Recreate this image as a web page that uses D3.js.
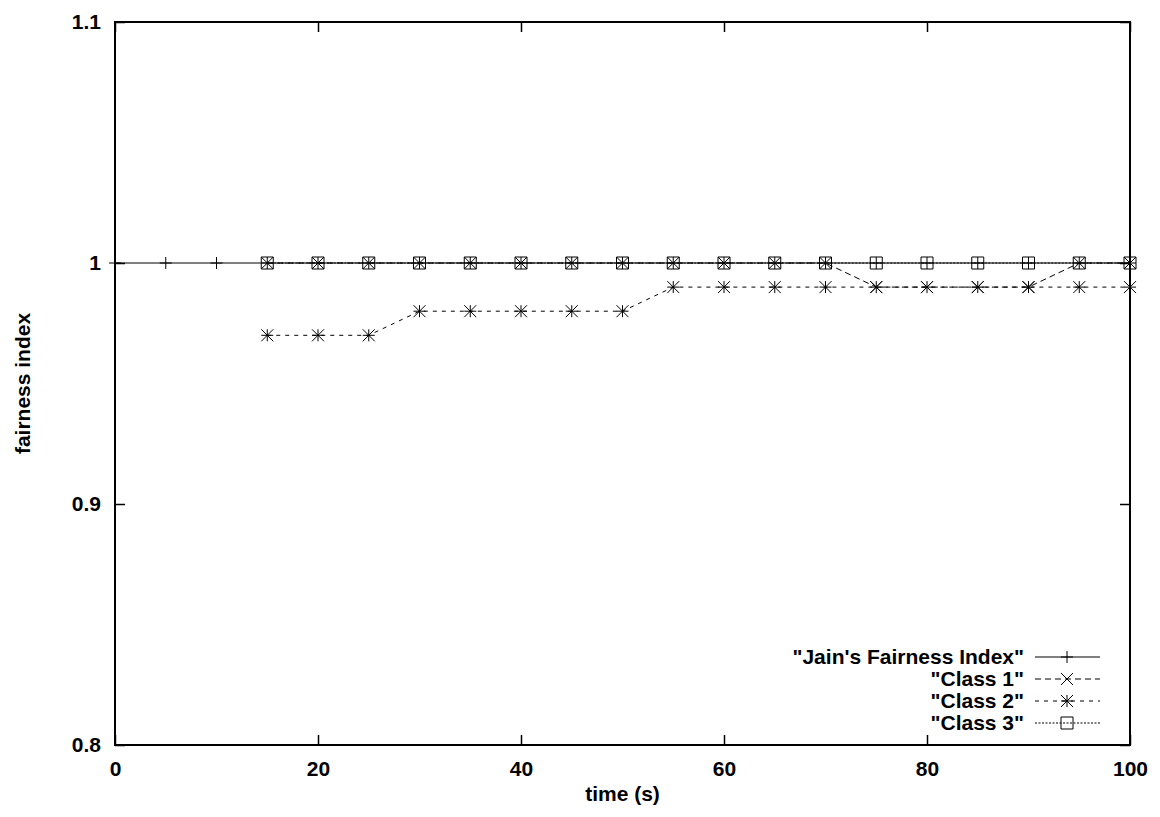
<!DOCTYPE html>
<html>
<head>
<meta charset="utf-8">
<script src="https://cdn.jsdelivr.net/npm/d3@7"></script>
<style>
  body { margin: 0; background: #fff; }
  text { font-family: "Liberation Sans", Arial, sans-serif; font-weight: bold; fill: #000; }
</style>
</head>
<body>
<svg id="chart" width="1160" height="817"></svg>
<script>
const jainX = [0, 5, 10, 15, 20, 25, 30, 35, 40, 45, 50, 55, 60, 65, 70, 75, 80, 85, 90, 95, 100];
const jainY = [1, 1, 1, 1, 1, 1, 1, 1, 1, 1, 1, 1, 1, 1, 1, 1, 1, 1, 1, 1, 1];
const classX = [15, 20, 25, 30, 35, 40, 45, 50, 55, 60, 65, 70, 75, 80, 85, 90, 95, 100];
const class1Y = [1, 1, 1, 1, 1, 1, 1, 1, 1, 1, 1, 1, 0.99, 0.99, 0.99, 0.99, 1, 1];
const class2Y = [0.97, 0.97, 0.97, 0.98, 0.98, 0.98, 0.98, 0.98, 0.99, 0.99, 0.99, 0.99, 0.99, 0.99, 0.99, 0.99, 0.99, 0.99];
const class3Y = [1, 1, 1, 1, 1, 1, 1, 1, 1, 1, 1, 1, 1, 1, 1, 1, 1, 1];
const xTicks = [0, 20, 40, 60, 80, 100];
const yTicks = [0.8, 0.9, 1, 1.1];
const seriesNames = ['"Jain\'s Fairness Index"', '"Class 1"', '"Class 2"', '"Class 3"'];

const svg = d3.select('#chart');
const plotL = 115, plotR = 1130, plotT = 22, plotB = 745;
const fontSize = '21px';

const x = d3.scaleLinear().domain([0, 100]).range([plotL, plotR]);
const y = d3.scaleLinear().domain([0.8, 1.1]).range([plotB, plotT]);

const series = [
	{ name: seriesNames[0], xs: jainX, ys: jainY, dash: null, mark: 'plus' },
	{ name: seriesNames[1], xs: classX, ys: class1Y, dash: '6,4', mark: 'cross' },
	{ name: seriesNames[2], xs: classX, ys: class2Y, dash: '4,5', mark: 'star' },
	{ name: seriesNames[3], xs: classX, ys: class3Y, dash: '2,1.5', mark: 'box' }
];

function drawMark(g, kind, cx, cy) {
	const s = 6;
	const p = d3.path();
	if (kind === 'plus' || kind === 'star') {
		p.moveTo(cx - s, cy); p.lineTo(cx + s, cy);
		p.moveTo(cx, cy - s); p.lineTo(cx, cy + s);
	}
	if (kind === 'cross' || kind === 'star') {
		p.moveTo(cx - s, cy - s); p.lineTo(cx + s, cy + s);
		p.moveTo(cx - s, cy + s); p.lineTo(cx + s, cy - s);
	}
	if (kind === 'box') {
		p.rect(cx - s, cy - s, 2 * s, 2 * s);
	}
	g.append('path').attr('d', p.toString())
		.attr('fill', 'none').attr('stroke', '#000').attr('stroke-width', 1);
}

// axes with gnuplot style inward ticks
const xAxisB = d3.axisBottom(x).tickValues(xTicks).tickSizeInner(-10).tickSizeOuter(0).tickPadding(16).tickFormat(d3.format('d'));
const xAxisT = d3.axisTop(x).tickValues(xTicks).tickSizeInner(-10).tickSizeOuter(0).tickFormat('');
const yAxisL = d3.axisLeft(y).tickValues(yTicks).tickSizeInner(-10).tickSizeOuter(0).tickPadding(14).tickFormat(d => String(+d.toFixed(1)));
const yAxisR = d3.axisRight(y).tickValues(yTicks).tickSizeInner(-10).tickSizeOuter(0).tickFormat('');

function styleAxis(g) {
	g.select('.domain').remove();
	g.selectAll('line').attr('stroke', '#000').attr('stroke-width', 1.5);
	g.selectAll('text').style('font-size', fontSize).style('font-family', '"Liberation Sans", Arial, sans-serif').style('font-weight', 'bold');
}

svg.append('g').attr('transform', `translate(0,${plotB})`).call(xAxisB).call(styleAxis);
svg.append('g').attr('transform', `translate(0,${plotT})`).call(xAxisT).call(styleAxis);
svg.append('g').attr('transform', `translate(${plotL},0)`).call(yAxisL).call(styleAxis);
svg.append('g').attr('transform', `translate(${plotR},0)`).call(yAxisR).call(styleAxis);

// series
const line = d3.line();
series.forEach(s => {
	const pts = s.xs.map((v, i) => [x(v), y(s.ys[i])]);
	svg.append('path').attr('d', line(pts))
		.attr('fill', 'none').attr('stroke', '#000').attr('stroke-width', 1)
		.attr('stroke-dasharray', s.dash);
	const g = svg.append('g');
	pts.forEach(pt => drawMark(g, s.mark, pt[0], pt[1]));
});

// frame
svg.append('rect').attr('x', plotL).attr('y', plotT)
	.attr('width', plotR - plotL).attr('height', plotB - plotT)
	.attr('fill', 'none').attr('stroke', '#000').attr('stroke-width', 2);

// legend
const legend = svg.append('g');
series.forEach((s, i) => {
	const ly = 657 + i * 22;
	legend.append('text').attr('x', 1024).attr('y', ly).attr('dy', '0.35em')
		.attr('text-anchor', 'end').style('font-size', fontSize).text(s.name);
	legend.append('line').attr('x1', 1035).attr('x2', 1100).attr('y1', ly).attr('y2', ly)
		.attr('stroke', '#000').attr('stroke-width', 1).attr('stroke-dasharray', s.dash);
	drawMark(legend, s.mark, 1067, ly);
});

// axis titles
svg.append('text').attr('x', (plotL + plotR) / 2).attr('y', 801)
	.attr('text-anchor', 'middle').style('font-size', fontSize).text('time (s)');
svg.append('text').attr('transform', `translate(30,${(plotT + plotB) / 2}) rotate(-90)`)
	.attr('text-anchor', 'middle').style('font-size', fontSize).text('fairness index');
</script>
</body>
</html>
